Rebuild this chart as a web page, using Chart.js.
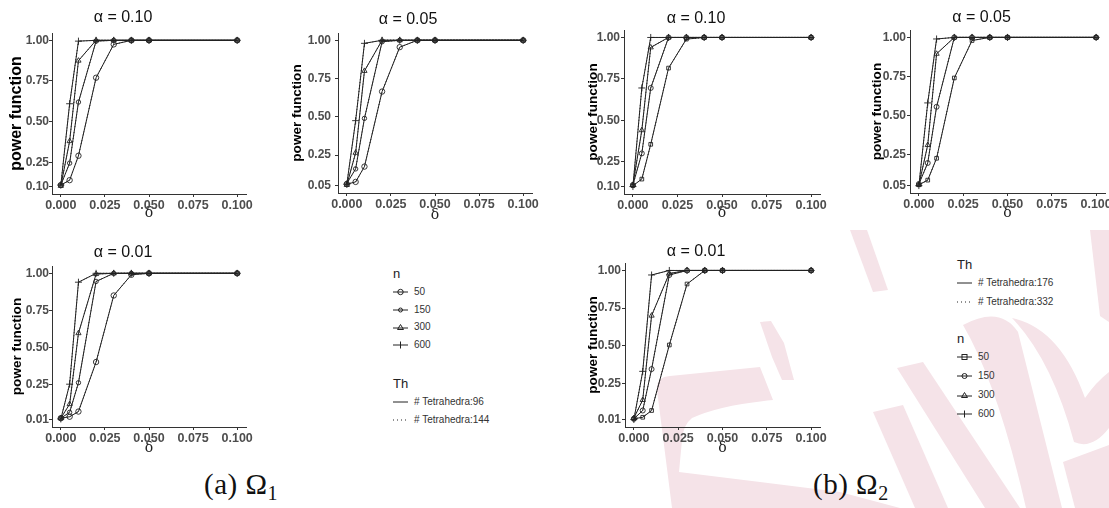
<!DOCTYPE html>
<html>
<head>
<meta charset="utf-8">
<script src="https://cdn.jsdelivr.net/npm/chart.js@4.4.1/dist/chart.umd.min.js"></script>
<style>
  body { margin: 0; background: #fff; font-family: "Liberation Sans", Arial, sans-serif; }
  #page { position: relative; width: 1109px; height: 508px; overflow: hidden; }
  #mark { position: absolute; left: 0; top: 0; }
  .panel { position: absolute; }
  .lg { position: absolute; color: #333; font-size: 10px; line-height: 12px; white-space: nowrap; }
  .lg .head { font-size: 13px; color: #222; }
  .lg svg { vertical-align: middle; margin-right: 6px; }
  .cap { position: absolute; font-family: "Liberation Serif", "DejaVu Serif", serif; font-size: 29px; color: #111; white-space: nowrap; letter-spacing: 0.5px; }
  .cap sub { font-size: 20px; vertical-align: -6px; }
</style>
</head>
<body>
<div id="page">
  <!-- faint watermark in the background -->
  <svg id="mark" width="1109" height="508">
    <g fill="#f5e3e8">
      <path d="M672,508 L657,390 Q656,377 670,376 L760,367 L773,400 Q720,405 692,418 Q683,425 682,440 L679,472 L760,482 L840,492 L900,508 Z"/>
      <path d="M760,322 L771,321 L784,343 L794,380 L782,380 L772,357 Z"/>
      <path d="M850,230 L867,230 L888,290 L873,292 Z"/>
      <path d="M873,412 L903,405 L948,508 L915,508 Z"/>
      <path d="M897,368 L923,362 L1020,508 L985,508 Z"/>
      <path d="M963,325 Q1000,305 1018,332 L1062,508 L1026,508 Q998,385 963,325 Z"/>
      <path d="M1012,318 Q1060,328 1085,398 Q1096,382 1109,372 L1109,428 Q1092,450 1074,442 Q1052,360 1012,318 Z"/>
      <path d="M1090,230 L1109,230 L1109,322 L1100,316 Z"/>
      <path d="M1063,462 L1109,445 L1109,508 L1075,508 Z"/>
    </g>
  </svg>

  <div class="lg" style="left:393px;top:268px;">
    <div class="head">n</div>
    <div style="margin-top:6px;height:17.5px"><svg width="15" height="8"><line x1="0" y1="4" x2="15" y2="4" stroke="#222"/><circle cx="7.5" cy="4" r="2.7" fill="none" stroke="#222"/></svg>50</div>
    <div style="height:17.5px"><svg width="15" height="8"><line x1="0" y1="4" x2="15" y2="4" stroke="#222"/><circle cx="7.5" cy="4" r="2" fill="none" stroke="#222"/></svg>150</div>
    <div style="height:17.5px"><svg width="15" height="8"><line x1="0" y1="5" x2="15" y2="5" stroke="#222"/><path d="M7.5,1.5 L10.5,6.5 L4.5,6.5 Z" fill="none" stroke="#222"/></svg>300</div>
    <div style="height:17.5px"><svg width="15" height="8"><line x1="0" y1="4" x2="15" y2="4" stroke="#222"/><line x1="7.5" y1="0.5" x2="7.5" y2="7.5" stroke="#222"/></svg>600</div>
    <div class="head" style="margin-top:22px">Th</div>
    <div style="margin-top:6px;height:18px"><svg width="15" height="8"><line x1="0" y1="4" x2="15" y2="4" stroke="#222"/></svg># Tetrahedra:96</div>
    <div style="height:18px"><svg width="15" height="8"><line x1="0" y1="4" x2="15" y2="4" stroke="#222" stroke-dasharray="1,3"/></svg># Tetrahedra:144</div>
  </div>

  <div class="lg" style="left:957px;top:259px;">
    <div class="head">Th</div>
    <div style="margin-top:6px;height:19px"><svg width="15" height="8"><line x1="0" y1="4" x2="15" y2="4" stroke="#222"/></svg># Tetrahedra:176</div>
    <div style="height:19px"><svg width="15" height="8"><line x1="0" y1="4" x2="15" y2="4" stroke="#222" stroke-dasharray="1,3"/></svg># Tetrahedra:332</div>
    <div class="head" style="margin-top:18px">n</div>
    <div style="margin-top:6px;height:19px"><svg width="15" height="8"><line x1="0" y1="4" x2="15" y2="4" stroke="#222"/><rect x="5" y="1.5" width="5" height="5" fill="none" stroke="#222"/></svg>50</div>
    <div style="height:19px"><svg width="15" height="8"><line x1="0" y1="4" x2="15" y2="4" stroke="#222"/><circle cx="7.5" cy="4" r="2.5" fill="none" stroke="#222"/></svg>150</div>
    <div style="height:19px"><svg width="15" height="8"><line x1="0" y1="5" x2="15" y2="5" stroke="#222"/><path d="M7.5,1.5 L10.5,6.5 L4.5,6.5 Z" fill="none" stroke="#222"/></svg>300</div>
    <div style="height:19px"><svg width="15" height="8"><line x1="0" y1="4" x2="15" y2="4" stroke="#222"/><line x1="7.5" y1="0.5" x2="7.5" y2="7.5" stroke="#222"/></svg>600</div>
  </div>

  <div class="cap" style="left:204px;top:468px;">(a)&nbsp;Ω<sub>1</sub></div>
  <div class="cap" style="left:813px;top:468px;">(b)&nbsp;Ω<sub>2</sub></div>
</div>

<script>
// shift sizes on the x axis
const delta = [0, 0.005, 0.01, 0.02, 0.03, 0.04, 0.05, 0.1];
const sampleSizes = ['50', '150', '300', '600'];
const xTickVals = [0, 0.025, 0.05, 0.075, 0.1];
const yTicks10 = [0.10, 0.25, 0.50, 0.75, 1.00];
const yTicks05 = [0.05, 0.25, 0.50, 0.75, 1.00];
const yTicks01 = [0.01, 0.25, 0.50, 0.75, 1.00];

// (a) Omega_1, power for n = 50, 150, 300, 600
const om1_a10_n50  = [0.11, 0.14, 0.29, 0.77, 0.975, 1, 1, 1];
const om1_a10_n150 = [0.11, 0.245, 0.62, 0.995, 1, 1, 1, 1];
const om1_a10_n300 = [0.105, 0.38, 0.875, 1, 1, 1, 1, 1];
const om1_a10_n600 = [0.11, 0.61, 0.995, 1, 1, 1, 1, 1];

const om1_a05_n50  = [0.06, 0.075, 0.175, 0.665, 0.955, 1, 1, 1];
const om1_a05_n150 = [0.065, 0.16, 0.49, 0.99, 1, 1, 1, 1];
const om1_a05_n300 = [0.055, 0.265, 0.80, 1, 1, 1, 1, 1];
const om1_a05_n600 = [0.06, 0.475, 0.98, 1, 1, 1, 1, 1];

const om1_a01_n50  = [0.02, 0.03, 0.065, 0.40, 0.85, 0.99, 1, 1];
const om1_a01_n150 = [0.02, 0.06, 0.26, 0.945, 1, 1, 1, 1];
const om1_a01_n300 = [0.02, 0.115, 0.595, 0.995, 1, 1, 1, 1];
const om1_a01_n600 = [0.015, 0.25, 0.94, 1, 1, 1, 1, 1];

// (b) Omega_2
const om2_a10_n50  = [0.105, 0.145, 0.355, 0.815, 0.99, 1, 1, 1];
const om2_a10_n150 = [0.11, 0.30, 0.695, 1, 1, 1, 1, 1];
const om2_a10_n300 = [0.11, 0.44, 0.94, 1, 1, 1, 1, 1];
const om2_a10_n600 = [0.10, 0.695, 1, 1, 1, 1, 1, 1];

const om2_a05_n50  = [0.055, 0.085, 0.225, 0.74, 0.98, 1, 1, 1];
const om2_a05_n150 = [0.06, 0.195, 0.555, 1, 1, 1, 1, 1];
const om2_a05_n300 = [0.055, 0.31, 0.895, 1, 1, 1, 1, 1];
const om2_a05_n600 = [0.05, 0.58, 0.99, 1, 1, 1, 1, 1];

const om2_a01_n50  = [0.015, 0.025, 0.07, 0.505, 0.91, 1, 1, 1];
const om2_a01_n150 = [0.015, 0.07, 0.345, 0.97, 1, 1, 1, 1];
const om2_a01_n300 = [0.02, 0.14, 0.70, 0.98, 1, 1, 1, 1];
const om2_a01_n600 = [0.01, 0.33, 0.97, 1, 1, 1, 1, 1];

const markersA = [['circle', 2.7], ['circle', 2.2], ['triangle', 3], ['cross', 3.5]];
const markersB = [['rect', 2.6], ['circle', 2.5], ['triangle', 3], ['cross', 3.5]];

// area = [left, top, right, bottom] of the plotting region in page pixels
const panels = [
  { left: 0,   top: 0,   area: [52, 33, 246, 194],   titleY: 18, yTitleX: 17,  deltaY: 213, tickPad: 0, ySize: 16,
    title: 'α = 0.10', yTicks: yTicks10, marks: markersA, series: [om1_a10_n50, om1_a10_n150, om1_a10_n300, om1_a10_n600] },
  { left: 284, top: 0,   area: [338, 33, 532, 193],  titleY: 20, yTitleX: 297, deltaY: 215, tickPad: 4, ySize: 13.6,
    title: 'α = 0.05', yTicks: yTicks05, marks: markersA, series: [om1_a05_n50, om1_a05_n150, om1_a05_n300, om1_a05_n600] },
  { left: 0,   top: 230, area: [52, 266, 246, 427],  titleY: 253, yTitleX: 17, deltaY: 448, tickPad: 0, ySize: 13.6,
    title: 'α = 0.01', yTicks: yTicks01, marks: markersA, series: [om1_a01_n50, om1_a01_n150, om1_a01_n300, om1_a01_n600] },
  { left: 572, top: 0,   area: [624, 30, 820, 194],  titleY: 19, yTitleX: 593, deltaY: 213, tickPad: 1, ySize: 13.6,
    title: 'α = 0.10', yTicks: yTicks10, marks: markersB, series: [om2_a10_n50, om2_a10_n150, om2_a10_n300, om2_a10_n600] },
  { left: 858, top: 0,   area: [910, 30, 1105, 193], titleY: 18, yTitleX: 877, deltaY: 213, tickPad: 1, ySize: 13.6,
    title: 'α = 0.05', yTicks: yTicks05, marks: markersB, series: [om2_a05_n50, om2_a05_n150, om2_a05_n300, om2_a05_n600] },
  { left: 572, top: 230, area: [625, 263, 820, 427], titleY: 252, yTitleX: 593, deltaY: 448, tickPad: 1, ySize: 13.6,
    title: 'α = 0.01', yTicks: yTicks01, marks: markersB, series: [om2_a01_n50, om2_a01_n150, om2_a01_n300, om2_a01_n600] }
];

const ink = '#222';
const tickGrey = '#4d4d4d';

function makePanel(p) {
  const [aL, aT, aR, aB] = p.area;
  const padR = 22, xH = 28;
  const W = aR - p.left + padR;
  const H = aB - p.top + xH;
  const box = document.createElement('div');
  box.className = 'panel';
  box.style.left = p.left + 'px';
  box.style.top = p.top + 'px';
  const cv = document.createElement('canvas');
  cv.width = W; cv.height = H;
  cv.style.width = W + 'px'; cv.style.height = H + 'px';
  box.appendChild(cv);
  document.getElementById('page').appendChild(box);

  const lh = 18;
  const tTop = p.titleY - p.top - lh / 2;
  const tBottom = (aT - p.top) - tTop - lh;
  const lo = p.yTicks[0];
  const pad = 0.05 * (1 - lo);

  const datasets = [];
  p.series.forEach((vals, i) => {
    const pts = vals.map((v, k) => ({ x: delta[k], y: v }));
    datasets.push({
      label: 'n=' + sampleSizes[i],
      data: pts,
      borderColor: ink, borderWidth: 1, tension: 0,
      pointStyle: p.marks[i][0], pointRadius: p.marks[i][1],
      pointBorderColor: ink, pointBorderWidth: 0.9,
      pointBackgroundColor: 'rgba(0,0,0,0)', clip: false
    });
    // second tessellation (dotted) lies on top of the solid one
    datasets.push({
      label: 'n=' + sampleSizes[i] + ' dotted',
      data: pts,
      borderColor: ink, borderWidth: 1, borderDash: [1, 2], tension: 0,
      pointRadius: 0, clip: false
    });
  });

  new Chart(cv, {
    type: 'line',
    data: { datasets },
    options: {
      responsive: false,
      animation: false,
      devicePixelRatio: 1,
      layout: { padding: { left: 0, right: padR, top: 0, bottom: 0 } },
      plugins: {
        legend: { display: false },
        tooltip: { enabled: false },
        title: {
          display: true, text: p.title, color: '#111',
          font: { family: '"Liberation Sans", Arial, sans-serif', size: 16, weight: 'normal', lineHeight: lh / 16 },
          padding: { top: tTop, bottom: tBottom }
        }
      },
      scales: {
        x: {
          type: 'linear', min: -0.005, max: 0.105,
          afterBuildTicks: s => { s.ticks = xTickVals.map(v => ({ value: v })); },
          afterFit: s => { s.height = xH; },
          grid: { drawOnChartArea: false, tickLength: 3, color: '#333' },
          border: { color: '#333', width: 1 },
          ticks: {
            padding: 1, color: tickGrey, autoSkip: false, maxRotation: 0,
            font: { family: '"Liberation Sans", Arial, sans-serif', size: 12.5, weight: 'bold' },
            callback: v => v.toFixed(3)
          },
          title: {
            display: true, text: 'δ', color: ink,
            font: { family: '"DejaVu Serif", serif', size: 14, lineHeight: 1 },
            padding: { top: 0, bottom: (p.top + H) - p.deltaY - 7 }
          }
        },
        y: {
          type: 'linear', min: lo - pad, max: 1 + pad,
          afterBuildTicks: s => { s.ticks = p.yTicks.map(v => ({ value: v })); },
          afterFit: s => { s.width = aL - p.left; },
          grid: { drawOnChartArea: false, tickLength: 3, color: '#333' },
          border: { color: '#333', width: 1 },
          ticks: {
            padding: p.tickPad, color: tickGrey,
            font: { family: '"Liberation Sans", Arial, sans-serif', size: 12, weight: 'bold' },
            callback: v => v.toFixed(2)
          },
          title: {
            display: true, text: 'power function', color: '#000',
            font: { family: '"Liberation Sans", Arial, sans-serif', size: p.ySize, weight: 'bold', lineHeight: 1 },
            padding: { top: p.yTitleX - p.left - p.ySize / 2, bottom: 0 }
          }
        }
      }
    }
  });
}

panels.forEach(makePanel);
</script>
</body>
</html>
